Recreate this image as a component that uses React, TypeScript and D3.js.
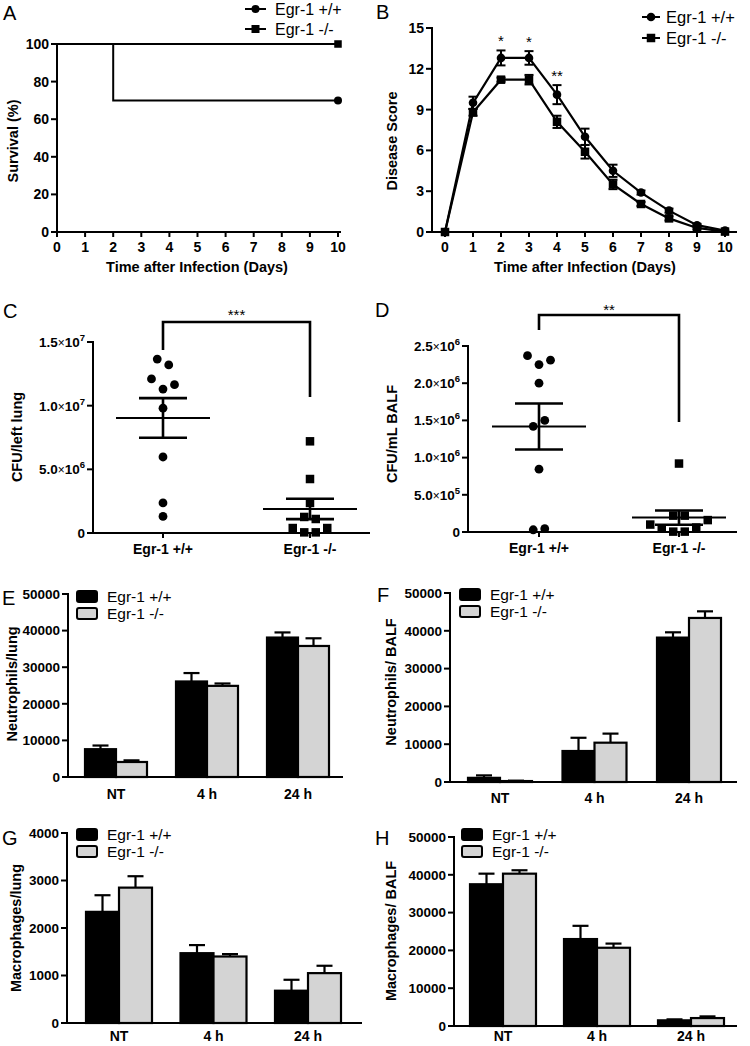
import React from "react";
import * as d3 from "d3";

const FONT = "'Liberation Sans', Arial, Helvetica, sans-serif";
const GREY = "#d4d4d4";
const INK = "#000";

// ---------- shared categories ----------
const genotypes = ["Egr-1 +/+", "Egr-1 -/-"];
const timepoints = ["NT", "4 h", "24 h"];

// ---------- Panel A: survival ----------
const dayTicks = [0, 1, 2, 3, 4, 5, 6, 7, 8, 9, 10];
const survivalTicks = [0, 20, 40, 60, 80, 100];
const wtSurvivalDays = [0, 2, 10];
const wtSurvivalPct = [100, 70, 70];
const koSurvivalDays = [0, 10];
const koSurvivalPct = [100, 100];

// ---------- Panel B: disease score ----------
const scoreTicks = [0, 3, 6, 9, 12, 15];
const wtScore = [0, 9.5, 12.8, 12.8, 10.1, 7.0, 4.5, 2.9, 1.57, 0.5, 0.1];
const wtScoreSem = [0, 0.45, 0.55, 0.5, 0.7, 0.6, 0.45, 0.15, 0.15, 0.1, 0.05];
const koScore = [0, 8.8, 11.2, 11.2, 8.1, 5.9, 3.5, 2.06, 1.0, 0.3, 0.03];
const koScoreSem = [0, 0.25, 0.15, 0.35, 0.45, 0.5, 0.35, 0.15, 0.15, 0.1, 0.03];
const scoreStars = ["", "", "*", "*", "**", "", "", "", "", "", ""];

// ---------- Panel C: CFU / left lung ----------
const cfuLungTicks = [0, 5e6, 1e7, 1.5e7];
const cfuLungWT = [13.2e6, 13.66e6, 11.3e6, 11.65e6, 12.1e6, 9.8e6, 5.97e6, 2.36e6, 1.3e6];
const cfuLungKO = [7.2e6, 4.24e6, 2.36e6, 1.1e6, 1.26e6, 0.05e6, 0.05e6, 0.39e6, 0.39e6];
const cfuLungStars = "***";

// ---------- Panel D: CFU / mL BALF ----------
const cfuBalfTicks = [0, 5e5, 1e6, 1.5e6, 2e6, 2.5e6];
const cfuBalfWT = [2.25e6, 2.31e6, 2.37e6, 2.0e6, 1.5e6, 1.42e6, 0.845e6, 0.045e6, 0.03e6];
const cfuBalfKO = [0.92e6, 0.22e6, 0.22e6, 0.005e6, 0.005e6, 0.06e6, 0.05e6, 0.16e6, 0.1e6];
const cfuBalfStars = "**";

// ---------- Panel E: neutrophils / lung ----------
const neutLungTicks = [0, 10000, 20000, 30000, 40000, 50000];
const neutLungWT = [7600, 26100, 38100];
const neutLungWTSem = [1000, 2300, 1400];
const neutLungKO = [4100, 24900, 35800];
const neutLungKOSem = [450, 650, 2100];

// ---------- Panel F: neutrophils / BALF ----------
const neutBalfTicks = [0, 10000, 20000, 30000, 40000, 50000];
const neutBalfWT = [1100, 8200, 38200];
const neutBalfWTSem = [650, 3500, 1400];
const neutBalfKO = [250, 10400, 43400];
const neutBalfKOSem = [100, 2400, 1750];

// ---------- Panel G: macrophages / lung ----------
const macLungTicks = [0, 1000, 2000, 3000, 4000];
const macLungWT = [2340, 1470, 680];
const macLungWTSem = [350, 170, 230];
const macLungKO = [2850, 1400, 1050];
const macLungKOSem = [240, 50, 155];

// ---------- Panel H: macrophages / BALF ----------
const macBalfTicks = [0, 10000, 20000, 30000, 40000, 50000];
const macBalfWT = [37500, 23000, 1500];
const macBalfWTSem = [2800, 3500, 260];
const macBalfKO = [40300, 20700, 2100];
const macBalfKOSem = [900, 1100, 440];

// ================= helpers =================
type Lin = d3.ScaleLinear<number, number>;

function YAxis({ x, scale, ticks, fmt, fs = 14 }: { x: number; scale: Lin; ticks: number[]; fmt?: (v: number) => any; fs?: number }) {
  const [y0, y1] = scale.range();
  return (
    <g>
      <line x1={x} x2={x} y1={y0 + 1} y2={y1 - 1} stroke={INK} strokeWidth={2} />
      {ticks.map((t) => (
        <g key={t}>
          <line x1={x - 6} x2={x} y1={scale(t)} y2={scale(t)} stroke={INK} strokeWidth={2} />
          <text x={x - 8} y={scale(t)} dy="0.36em" textAnchor="end" fontWeight="bold" fontSize={fs}>
            {fmt ? fmt(t) : String(t)}
          </text>
        </g>
      ))}
    </g>
  );
}

function XAxisLine({ y, x1, x2 }: { y: number; x1: number; x2: number }) {
  return <line x1={x1 - 1} x2={x2} y1={y} y2={y} stroke={INK} strokeWidth={2} />;
}

function YTitle({ x, y, text }: { x: number; y: number; text: string }) {
  return (
    <text transform={`translate(${x},${y}) rotate(-90)`} dy="0.36em" textAnchor="middle" fontWeight="bold" fontSize={14.5}>
      {text}
    </text>
  );
}

function Letter({ x, y, t }: { x: number; y: number; t: string }) {
  return (
    <text x={x} y={y} fontSize={20}>
      {t}
    </text>
  );
}

function Square({ cx, cy, s = 8.5 }: { cx: number; cy: number; s?: number }) {
  return <rect x={cx - s / 2} y={cy - s / 2} width={s} height={s} fill={INK} />;
}

function sciLabel(v: number) {
  if (v === 0) return "0";
  const e = Math.floor(Math.log10(v) + 1e-9);
  const m = (v / Math.pow(10, e)).toFixed(1);
  return (
    <>
      {m}
      <tspan fontWeight="normal" fontSize={12}>×</tspan>
      10
      <tspan fontSize={9.5} dy={-6}>{e}</tspan>
    </>
  );
}

// cluster-based symmetric dodge (points at similar heights are spread side by side)
function dodge(values: number[], y: Lin, limit: number, step: number): number[] {
  const idx = values.map((_, i) => i).sort((a, b) => values[a] - values[b] || a - b);
  const clusters: number[][] = [];
  let cur: number[] = [];
  let anchor = 0;
  for (const i of idx) {
    const py = y(values[i]);
    if (cur.length && Math.abs(anchor - py) <= limit) cur.push(i);
    else {
      if (cur.length) clusters.push(cur);
      cur = [i];
      anchor = py;
    }
  }
  if (cur.length) clusters.push(cur);
  const out = new Array(values.length).fill(0);
  for (const c of clusters) {
    const members = [...c].sort((a, b) => a - b);
    const n = members.length;
    const slots: number[] = [];
    if (n % 2 === 1) {
      slots.push(0);
      for (let k = 1; slots.length < n; k++) slots.push(k, -k);
    } else {
      for (let k = 0.5; slots.length < n; k++) slots.push(k, -k);
    }
    members.forEach((m, j) => (out[m] = slots[j] * step));
  }
  return out;
}

// ================= panels =================
function PanelA() {
  const x = d3.scaleLinear([0, 10], [57, 338]);
  const y = d3.scaleLinear([0, 100], [232, 44]);
  const line = d3.line<[number, number]>().x((d) => x(d[0])).y((d) => y(d[1])).curve(d3.curveStepAfter);
  const wt = wtSurvivalDays.map((d, i) => [d, wtSurvivalPct[i]] as [number, number]);
  const ko = koSurvivalDays.map((d, i) => [d, koSurvivalPct[i]] as [number, number]);
  const wtLast = wt[wt.length - 1];
  const koLast = ko[ko.length - 1];
  return (
    <g>
      <Letter x={3} y={20} t="A" />
      <YAxis x={57} scale={y} ticks={survivalTicks} />
      <XAxisLine y={232} x1={57} x2={341} />
      {dayTicks.map((d) => (
        <g key={d}>
          <line x1={x(d)} x2={x(d)} y1={232} y2={237} stroke={INK} strokeWidth={2} />
          <text x={x(d)} y={252} textAnchor="middle" fontWeight="bold" fontSize={14}>{d}</text>
        </g>
      ))}
      <text x={197} y={272} textAnchor="middle" fontWeight="bold" fontSize={14.5}>Time after Infection (Days)</text>
      <YTitle x={12.5} y={141} text="Survival (%)" />
      <path d={line(ko) || ""} fill="none" stroke={INK} strokeWidth={2} />
      <path d={line(wt) || ""} fill="none" stroke={INK} strokeWidth={2} />
      <circle cx={x(wtLast[0])} cy={y(wtLast[1])} r={4} fill={INK} />
      <Square cx={x(koLast[0])} cy={y(koLast[1])} s={7.5} />
      {/* legend */}
      {genotypes.map((g, i) => (
        <g key={g} transform={`translate(0,${9 + i * 20})`}>
          <line x1={245} x2={266} y1={0} y2={0} stroke={INK} strokeWidth={2} />
          {i === 0 ? <circle cx={255.5} cy={0} r={4} fill={INK} /> : <Square cx={255.5} cy={0} s={8} />}
          <text x={275} y={0} dy="0.36em" fontSize={16}>{g}</text>
        </g>
      ))}
    </g>
  );
}

function PanelB() {
  const x = d3.scaleLinear([0, 10], [445, 725]);
  const y = d3.scaleLinear([0, 15], [232, 28]);
  const line = d3.line<number>().x((_, i) => x(dayTicks[i])).y((d) => y(d));
  const errBars = (vals: number[], sems: number[], key: string) =>
    vals.map((v, i) =>
      sems[i] > 0.08 ? (
        <g key={key + i} stroke={INK} strokeWidth={2}>
          <line x1={x(dayTicks[i])} x2={x(dayTicks[i])} y1={y(v - sems[i])} y2={y(v + sems[i])} />
          <line x1={x(dayTicks[i]) - 4.5} x2={x(dayTicks[i]) + 4.5} y1={y(v + sems[i])} y2={y(v + sems[i])} />
          <line x1={x(dayTicks[i]) - 4.5} x2={x(dayTicks[i]) + 4.5} y1={y(v - sems[i])} y2={y(v - sems[i])} />
        </g>
      ) : null
    );
  return (
    <g>
      <Letter x={376} y={19} t="B" />
      <YAxis x={432} scale={y} ticks={scoreTicks} />
      <XAxisLine y={232} x1={432} x2={737} />
      {dayTicks.map((d) => (
        <g key={d}>
          <line x1={x(d)} x2={x(d)} y1={232} y2={237} stroke={INK} strokeWidth={2} />
          <text x={x(d)} y={252} textAnchor="middle" fontWeight="bold" fontSize={14}>{d}</text>
        </g>
      ))}
      <text x={585} y={272} textAnchor="middle" fontWeight="bold" fontSize={14.5}>Time after Infection (Days)</text>
      <YTitle x={392} y={141} text="Disease Score" />
      <path d={line(koScore) || ""} fill="none" stroke={INK} strokeWidth={2.2} />
      <path d={line(wtScore) || ""} fill="none" stroke={INK} strokeWidth={2.2} />
      {errBars(koScore, koScoreSem, "k")}
      {errBars(wtScore, wtScoreSem, "w")}
      {koScore.map((v, i) => <Square key={"ks" + i} cx={x(dayTicks[i])} cy={y(v)} s={8.5} />)}
      {wtScore.map((v, i) => <circle key={"wc" + i} cx={x(dayTicks[i])} cy={y(v)} r={4.3} fill={INK} />)}
      {scoreStars.map((s, i) =>
        s ? (
          <text key={"st" + i} x={x(dayTicks[i])} y={y(wtScore[i] + wtScoreSem[i]) - 4} textAnchor="middle" fontSize={15}>{s}</text>
        ) : null
      )}
      {genotypes.map((g, i) => (
        <g key={g} transform={`translate(0,${17 + i * 21})`}>
          <line x1={642} x2={660} y1={0} y2={0} stroke={INK} strokeWidth={2} />
          {i === 0 ? <circle cx={651} cy={0} r={4.3} fill={INK} /> : <Square cx={651} cy={0} s={8.5} />}
          <text x={666} y={0} dy="0.36em" fontSize={16.5}>{g}</text>
        </g>
      ))}
    </g>
  );
}

function ScatterPanel(props: {
  letter: string; lx: number; ly: number;
  axisX: number; axisEnd: number; y: Lin; ticks: number[];
  cats: [number, number]; wt: number[]; ko: number[];
  title: string; tx: number; ty: number;
  stars: string; bracketTop: number; bracketL: number; bracketR: number; starsY: number;
}) {
  const { y } = props;
  const x = d3.scalePoint<string>().domain(genotypes).range(props.cats);
  const y0 = y.range()[0];
  const groups = [props.wt, props.ko];
  const meanHalf = 47;
  const capHalf = 24;
  const x0 = x(genotypes[0])!;
  const x1 = x(genotypes[1])!;
  return (
    <g>
      <Letter x={props.lx} y={props.ly} t={props.letter} />
      <YAxis x={props.axisX} scale={y} ticks={props.ticks} fmt={sciLabel} fs={13.5} />
      <XAxisLine y={y0} x1={props.axisX} x2={props.axisEnd} />
      <YTitle x={props.tx} y={props.ty} text={props.title} />
      {genotypes.map((g) => (
        <g key={g}>
          <line x1={x(g)} x2={x(g)} y1={y0} y2={y0 + 5} stroke={INK} strokeWidth={2} />
          <text x={x(g)} y={y0 + 21} textAnchor="middle" fontWeight="bold" fontSize={14}>{g}</text>
        </g>
      ))}
      {groups.map((vals, gi) => {
        const cx = x(genotypes[gi])!;
        const m = d3.mean(vals)!;
        const sem = d3.deviation(vals)! / Math.sqrt(vals.length);
        const off = dodge(vals, y, 12, 11.5);
        return (
          <g key={gi}>
            {vals.map((v, i) =>
              gi === 0 ? (
                <circle key={i} cx={cx + off[i]} cy={y(v)} r={4.4} fill={INK} />
              ) : (
                <Square key={i} cx={cx + off[i]} cy={y(v)} s={8.5} />
              )
            )}
            <g stroke={INK}>
              <line x1={cx - meanHalf} x2={cx + meanHalf} y1={y(m)} y2={y(m)} strokeWidth={2} />
              <line x1={cx} x2={cx} y1={y(m - sem)} y2={y(m + sem)} strokeWidth={2.6} />
              <line x1={cx - capHalf} x2={cx + capHalf} y1={y(m + sem)} y2={y(m + sem)} strokeWidth={2.6} />
              <line x1={cx - capHalf} x2={cx + capHalf} y1={y(m - sem)} y2={y(m - sem)} strokeWidth={2.6} />
            </g>
          </g>
        );
      })}
      <path
        d={`M${x0},${props.bracketL}V${props.bracketTop}H${x1}V${props.bracketR}`}
        fill="none" stroke={INK} strokeWidth={2.6}
      />
      <text x={(x0 + x1) / 2} y={props.starsY} textAnchor="middle" fontSize={15}>{props.stars}</text>
    </g>
  );
}

function BarPanel(props: {
  letter: string; lx: number; ly: number;
  axisX: number; axisEnd: number; y: Lin; ticks: number[];
  groupRange: [number, number]; bw: number; labelDy: number;
  wt: number[]; wtSem: number[]; ko: number[]; koSem: number[];
  title: string; tx: number; ty: number;
  legX: number; legY: number;
}) {
  const { y, bw } = props;
  const gx = d3.scalePoint<string>().domain(timepoints).range(props.groupRange);
  const sx = d3.scaleBand<string>().domain(genotypes).range([-bw, bw]).padding(0);
  const y0 = y.range()[0];
  const series = [
    { vals: props.wt, sems: props.wtSem, fill: INK, g: genotypes[0] },
    { vals: props.ko, sems: props.koSem, fill: GREY, g: genotypes[1] },
  ];
  return (
    <g>
      <Letter x={props.lx} y={props.ly} t={props.letter} />
      {series.map((s) =>
        timepoints.map((t, i) => {
          const left = gx(t)! + sx(s.g)!;
          const w = sx.bandwidth();
          const top = y(s.vals[i]);
          const et = y(s.vals[i] + s.sems[i]);
          const c = left + w / 2;
          return (
            <g key={s.g + t}>
              <line x1={c} x2={c} y1={top} y2={et} stroke={INK} strokeWidth={2.2} />
              <line x1={c - 8} x2={c + 8} y1={et} y2={et} stroke={INK} strokeWidth={2.2} />
              <rect x={left} y={top} width={w} height={y0 - top} fill={s.fill} stroke={INK} strokeWidth={2.2} />
            </g>
          );
        })
      )}
      <YAxis x={props.axisX} scale={y} ticks={props.ticks} fs={13.5} />
      <XAxisLine y={y0} x1={props.axisX} x2={props.axisEnd} />
      {timepoints.map((t) => (
        <text key={t} x={gx(t)} y={y0 + props.labelDy} textAnchor="middle" fontWeight="bold" fontSize={14}>{t}</text>
      ))}
      <YTitle x={props.tx} y={props.ty} text={props.title} />
      {series.map((s, i) => (
        <g key={s.g} transform={`translate(${props.legX},${props.legY + i * 17})`}>
          <rect x={0} y={0} width={20} height={11} rx={2} fill={s.fill} stroke={INK} strokeWidth={2} />
          <text x={30} y={5.5} dy="0.36em" fontSize={15.5}>{s.g}</text>
        </g>
      ))}
    </g>
  );
}

export default function App() {
  return (
    <div style={{ position: "absolute", left: 0, top: 0, width: 750, height: 1046, background: "#fff" }}>
      <svg width={750} height={1046} fontFamily={FONT} style={{ display: "block" }}>
        <rect width={750} height={1046} fill="#fff" />
        <PanelA />
        <PanelB />
        <ScatterPanel
          letter="C" lx={3} ly={318}
          axisX={93} axisEnd={370} y={d3.scaleLinear([0, 1.5e7], [533, 342])} ticks={cfuLungTicks}
          cats={[163, 310]} wt={cfuLungWT} ko={cfuLungKO}
          title="CFU/left lung" tx={17} ty={437}
          stars={cfuLungStars} bracketTop={322} bracketL={350} bracketR={397} starsY={320}
        />
        <ScatterPanel
          letter="D" lx={375} ly={317}
          axisX={468} axisEnd={737} y={d3.scaleLinear([0, 2.5e6], [532, 346])} ticks={cfuBalfTicks}
          cats={[539, 679]} wt={cfuBalfWT} ko={cfuBalfKO}
          title="CFU/mL BALF" tx={392} ty={434}
          stars={cfuBalfStars} bracketTop={315} bracketL={330} bracketR={422} starsY={315}
        />
        <BarPanel
          letter="E" lx={2} ly={605}
          axisX={68} axisEnd={343} y={d3.scaleLinear([0, 50000], [777, 594])} ticks={neutLungTicks}
          groupRange={[116, 298]} bw={31} labelDy={22}
          wt={neutLungWT} wtSem={neutLungWTSem} ko={neutLungKO} koSem={neutLungKOSem}
          title="Neutrophils/lung" tx={12} ty={684}
          legX={77} legY={591}
        />
        <BarPanel
          letter="F" lx={377} ly={602}
          axisX={450} axisEnd={737} y={d3.scaleLinear([0, 50000], [782, 593])} ticks={neutBalfTicks}
          groupRange={[500, 689]} bw={32} labelDy={21}
          wt={neutBalfWT} wtSem={neutBalfWTSem} ko={neutBalfKO} koSem={neutBalfKOSem}
          title="Neutrophils/ BALF" tx={391} ty={682}
          legX={460} legY={589}
        />
        <BarPanel
          letter="G" lx={2} ly={845}
          axisX={67} axisEnd={362} y={d3.scaleLinear([0, 4000], [1023, 833])} ticks={macLungTicks}
          groupRange={[119, 308]} bw={33} labelDy={18}
          wt={macLungWT} wtSem={macLungWTSem} ko={macLungKO} koSem={macLungKOSem}
          title="Macrophages/lung" tx={16} ty={928}
          legX={77} legY={829}
        />
        <BarPanel
          letter="H" lx={375} ly={845}
          axisX={454} axisEnd={737} y={d3.scaleLinear([0, 50000], [1026, 837])} ticks={macBalfTicks}
          groupRange={[503, 691]} bw={33} labelDy={15}
          wt={macBalfWT} wtSem={macBalfWTSem} ko={macBalfKO} koSem={macBalfKOSem}
          title="Macrophages/ BALF" tx={391} ty={931}
          legX={462} legY={829}
        />
      </svg>
    </div>
  );
}
